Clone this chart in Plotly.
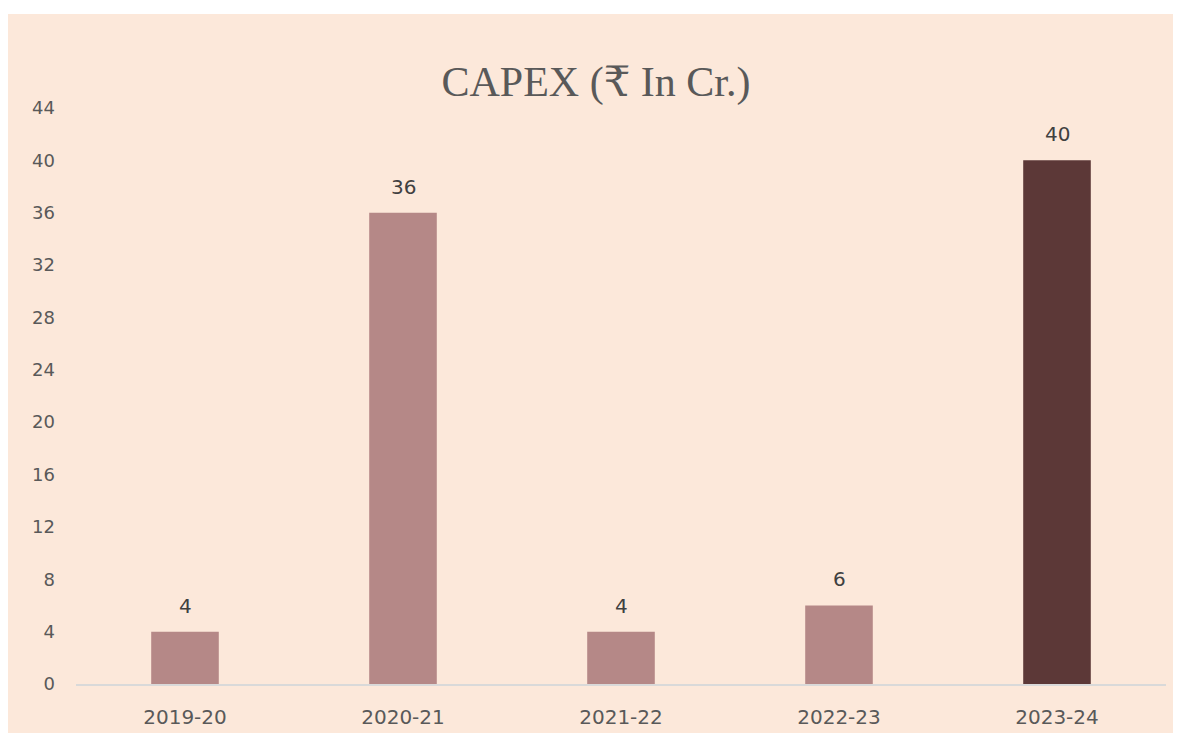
import plotly.graph_objects as go

years = ["2019-20", "2020-21", "2021-22", "2022-23", "2023-24"]
capex = [4, 36, 4, 6, 40]
bar_colors = ["#B58887", "#B58887", "#B58887", "#B58887", "#5C3837"]
y_ticks = [0, 4, 8, 12, 16, 20, 24, 28, 32, 36, 40, 44]

# page body has an 8px offset; positions below are in figure coordinates
OFF = 8
W, H = 1181, 738
L, R, T, B = 76 - OFF, W - (1166 - OFF), 108 - OFF, H - (684 - OFF)
pw, ph = W - L - R, H - T - B

def px(x):
    return (x - OFF - L) / pw

def py(y):
    return (H - B - (y - OFF)) / ph

tick_font = "DejaVu Sans, Verdana, sans-serif"

fig = go.Figure(go.Bar(
    x=years, y=capex,
    marker=dict(color=bar_colors, line=dict(width=0)),
    width=0.31,
))

for yr, v in zip(years, capex):
    fig.add_annotation(x=yr, y=v, text=str(v), showarrow=False,
                       yanchor="bottom", yshift=12,
                       font=dict(family=tick_font, size=20, color="#404040"))

fig.add_shape(type="rect", xref="paper", yref="paper",
              x0=px(8), x1=px(1175), y0=py(733), y1=py(14),
              fillcolor="#FCE8DA", line=dict(width=0), layer="below")

fig.update_layout(
    width=W, height=H,
    margin=dict(l=L, r=R, t=T, b=B),
    paper_bgcolor="white", plot_bgcolor="rgba(0,0,0,0)",
    showlegend=False,
    title=dict(text="CAPEX (₹ In Cr.)", x=(596 - OFF) / W, xanchor="center",
               y=1 - (81 - OFF) / H, yanchor="middle",
               font=dict(family="Liberation Serif, DejaVu Serif, serif", size=42, color="#595959")),
    xaxis=dict(showgrid=False, showline=True, linecolor="#D9D9D9", linewidth=1.5,
               ticks="", tickfont=dict(family=tick_font, size=20, color="#595959"),
               ticklabelstandoff=14),
    yaxis=dict(range=[0, 44], tickvals=y_ticks, showgrid=False, zeroline=False, showline=False,
               ticks="", tickfont=dict(family=tick_font, size=18, color="#595959"),
               ticklabelstandoff=20),
)

fig.write_html("out.html")
